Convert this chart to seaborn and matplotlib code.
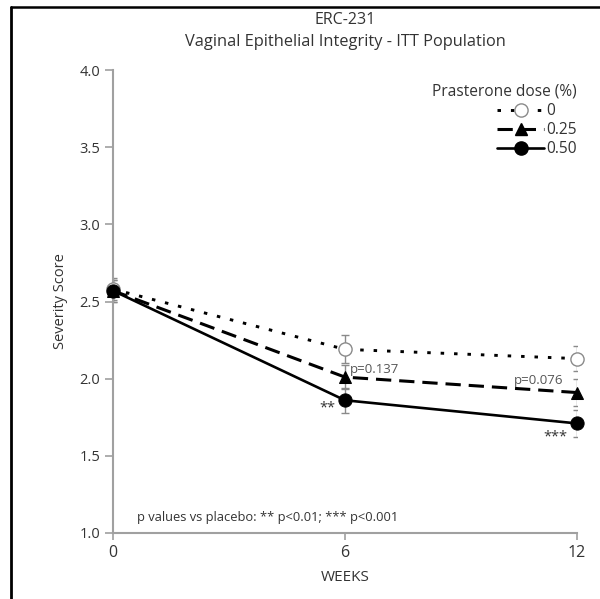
import numpy as np
import pandas as pd
import matplotlib
matplotlib.use("Agg")
import matplotlib.pyplot as plt
from matplotlib.lines import Line2D
import seaborn as sns

# values
weeks = [0, 6, 12]
dose_labels = ["0", "0.25", "0.50"]
score_0 = [2.58, 2.19, 2.13]
score_025 = [2.57, 2.01, 1.91]
score_050 = [2.57, 1.86, 1.71]
se_0 = [0.07, 0.09, 0.08]
se_025 = [0.07, 0.08, 0.09]
se_050 = [0.07, 0.08, 0.09]
y_ticks = [1.0, 1.5, 2.0, 2.5, 3.0, 3.5, 4.0]

sns.set_style("ticks")
plt.rcParams["font.family"] = ["Open Sans", "DejaVu Sans"]
text_col = "#333333"
axis_col = "#a0a0a0"

fig = plt.figure(figsize=(6.0, 5.99), dpi=100)
ax = fig.add_axes([0.1883, 0.1102, 0.7734, 0.7729])

series = [
    (score_0, se_0, dict(linestyle=(0, (1.2, 3.4)), marker="o", markerfacecolor="white",
                         markeredgecolor="#8a8a8a", markeredgewidth=1.0,
                         markersize=9.5, linewidth=2.1)),
    (score_025, se_025, dict(linestyle=(0, (5.0, 2.6)), marker="^", markerfacecolor="black",
                             markeredgecolor="black", markersize=8.5, linewidth=2.2)),
    (score_050, se_050, dict(linestyle="-", marker="o", markerfacecolor="black",
                             markeredgecolor="black", markersize=9.5, linewidth=1.9)),
]

handles = []
for (vals, se, style), lab in zip(series, dose_labels):
    df = pd.DataFrame({"week": weeks, "score": vals})
    ax.errorbar(weeks, vals, yerr=se, fmt="none", ecolor="#8a8a8a", elinewidth=1.0,
                capsize=3, capthick=1.0, zorder=1)
    sns.lineplot(data=df, x="week", y="score", ax=ax, color="black", zorder=3,
                 clip_on=False, **style)
    handles.append(Line2D([], [], color="black", **style))

ax.set_xlim(0, 12)
ax.set_ylim(1.0, 4.0)
ax.set_xticks(weeks)
ax.set_yticks(y_ticks)
ax.set_yticklabels([f"{v:.1f}" for v in y_ticks])
sns.despine(ax=ax)
for s in ["left", "bottom"]:
    ax.spines[s].set_color(axis_col)
    ax.spines[s].set_linewidth(1.5)
ax.tick_params(colors=axis_col, labelcolor=text_col, width=1.2)
ax.tick_params(axis="y", labelsize=10.5, length=6, pad=3)
ax.tick_params(axis="x", labelsize=11.5, length=5, pad=4)

ax.set_xlabel("WEEKS", fontsize=11, color=text_col, va="center")
ax.xaxis.set_label_coords(0.5, -0.097)
ax.set_ylabel("Severity Score", fontsize=10.5, color=text_col, va="center")
ax.yaxis.set_label_coords(-0.114, 0.5)

fig.text(345 / 600, 1 - 20 / 599, "ERC-231", ha="center", va="center",
         fontsize=11.5, color=text_col)
fig.text(345 / 600, 1 - 42 / 599, "Vaginal Epithelial Integrity - ITT Population",
         ha="center", va="center", fontsize=11.8, color=text_col)

leg = ax.legend(handles, dose_labels, title="Prasterone dose (%)", loc="upper right",
                frameon=False, fontsize=11.2, title_fontsize=11.2, handlelength=3.0,
                handletextpad=0.15, labelspacing=0.2, borderaxespad=0, borderpad=0,
                bbox_to_anchor=(1.0, 0.97))
leg._legend_box.align = "right"
for t in leg.get_texts():
    t.set_color(text_col)
leg.get_title().set_color(text_col)

ann = dict(fontsize=9.5, color="#555555")
ax.text(6.13, 2.06, "p=0.137", ha="left", va="center", **ann)
ax.text(11.64, 1.99, "p=0.076", ha="right", va="center", **ann)
ax.text(5.74, 1.81, "**", ha="right", va="center", fontsize=10.5, color="#333333")
ax.text(11.74, 1.62, "***", ha="right", va="center", fontsize=10.5, color="#333333")
ax.text(0.62, 1.10, "p values vs placebo: ** p<0.01; *** p<0.001", ha="left",
        va="center", fontsize=9.3, color=text_col)

# frame lines on the left and top of the figure
fig.add_artist(Line2D([11 / 600, 11 / 600], [0, 1 - 6.5 / 599], color="black", linewidth=2.0,
                      transform=fig.transFigure))
fig.add_artist(Line2D([11 / 600, 1], [1 - 6.5 / 599, 1 - 6.5 / 599], color="black",
                      linewidth=1.8, transform=fig.transFigure))

fig.savefig("out.png", dpi=100)
